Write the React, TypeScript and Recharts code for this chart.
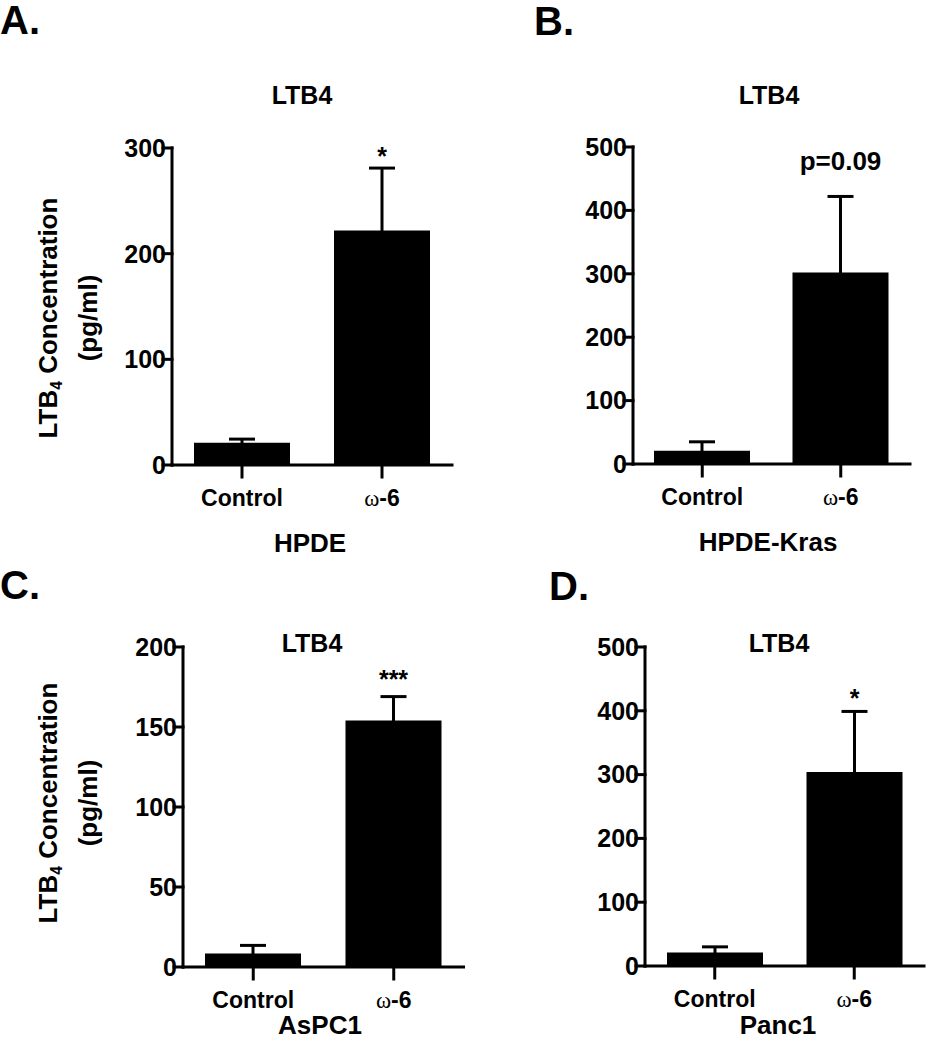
import { BarChart, Bar, XAxis, YAxis, ErrorBar, LabelList } from 'recharts'

const categories = ['Control', 'ω-6']

// A. HPDE
const hpdeMean = [21, 222]
const hpdeSem = [3.5, 59]
const hpdeTicks = [0, 100, 200, 300]

// B. HPDE-Kras
const krasMean = [21, 302]
const krasSem = [14, 120]
const krasTicks = [0, 100, 200, 300, 400, 500]

// C. AsPC1
const aspcMean = [8.5, 154]
const aspcSem = [5, 15]
const aspcTicks = [0, 50, 100, 150, 200]

// D. Panc1
const pancMean = [21, 304]
const pancSem = [9, 95]
const pancTicks = [0, 100, 200, 300, 400, 500]

const notes = ['*', 'p=0.09', '***', '*']

const FONT = '"Liberation Sans", Arial, sans-serif'
const Y_W = 80
const X_H = 45

type Box = { x: number; y: number; w: number; h: number }
type Plot = { left: number; top: number; right: number; bottom: number }

function CatTick(props: any) {
  const { x, y, payload } = props
  const label = String(payload.value)
  const common = {
    x,
    y,
    dy: '0.71em',
    textAnchor: 'middle' as const,
    fontFamily: FONT,
    fontWeight: 'bold',
    fontSize: 23,
    fill: '#000',
  }
  if (label.startsWith('ω')) {
    return (
      <text {...common}>
        <tspan fontFamily='"Liberation Serif", serif' fontWeight="normal">ω</tspan>
        <tspan>{label.slice(1)}</tspan>
      </text>
    )
  }
  return <text {...common}>{label}</text>
}

type PanelProps = {
  box: Box
  plot: Plot
  mean: number[]
  sem: number[]
  ticks: number[]
  note: string
  noteGap: number
  noteSize: number
}

function Panel({ box, plot, mean, sem, ticks, note, noteGap, noteSize }: PanelProps) {
  const data = categories.map((name, i) => ({ name, mean: mean[i], sem: sem[i] }))
  const margin = {
    left: plot.left - box.x - Y_W,
    top: plot.top - box.y,
    right: box.x + box.w - plot.right,
    bottom: box.y + box.h - plot.bottom - X_H,
  }
  const axisStyle = { stroke: '#000', strokeWidth: 3, strokeLinecap: 'square' as const }

  const renderNote = (p: any) => {
    if (p.index !== 1) return null
    const vb = p.viewBox && p.viewBox.width != null ? p.viewBox : p
    const { x, y, width, height } = vb
    const perUnit = height / mean[1]
    const errTop = y - sem[1] * perUnit
    return (
      <text
        x={x + width / 2}
        y={errTop - noteGap}
        textAnchor="middle"
        fontFamily={FONT}
        fontWeight="bold"
        fontSize={noteSize}
        fill="#000"
      >
        {note}
      </text>
    )
  }

  return (
    <div style={{ position: 'absolute', left: box.x, top: box.y }}>
      <BarChart width={box.w} height={box.h} data={data} margin={margin} barCategoryGap={0}>
        <XAxis
          dataKey="name"
          height={X_H}
          interval={0}
          axisLine={axisStyle}
          tickLine={axisStyle}
          tickSize={12}
          tickMargin={13}
          tick={<CatTick />}
        />
        <YAxis
          width={Y_W}
          domain={[0, ticks[ticks.length - 1]]}
          ticks={ticks}
          interval={0}
          axisLine={axisStyle}
          tickLine={axisStyle}
          tickSize={9}
          tickMargin={-3}
          tick={{ fontFamily: FONT, fontWeight: 'bold', fontSize: 25, fill: '#000' }}
        />
        <Bar dataKey="mean" fill="#000" barSize={96} isAnimationActive={false}>
          <ErrorBar dataKey="sem" direction="y" width={13} strokeWidth={3} stroke="#000" />
          <LabelList dataKey="mean" content={renderNote} />
        </Bar>
      </BarChart>
    </div>
  )
}

function Txt({ x, y, size, children, left }: { x: number; y: number; size: number; children: any; left?: boolean }) {
  return (
    <div
      style={{
        position: 'absolute',
        left: x,
        top: y,
        transform: left ? 'translate(0,-50%)' : 'translate(-50%,-50%)',
        fontFamily: FONT,
        fontWeight: 'bold',
        fontSize: size,
        lineHeight: 1,
        whiteSpace: 'nowrap',
        color: '#000',
      }}
    >
      {children}
    </div>
  )
}

function YLabel({ x, y }: { x: number; y: number }) {
  return (
    <div
      style={{
        position: 'absolute',
        left: x,
        top: y,
        transform: 'translate(-50%,-50%) rotate(-90deg)',
        fontFamily: FONT,
        fontWeight: 'bold',
        fontSize: 26,
        lineHeight: '37px',
        whiteSpace: 'nowrap',
        textAlign: 'center',
        color: '#000',
      }}
    >
      <div>
        LTB<span style={{ fontSize: '0.6em', position: 'relative', top: '0.35em' }}>4</span> Concentration
      </div>
      <div>(pg/ml)</div>
    </div>
  )
}

export default function App() {
  return (
    <div style={{ position: 'absolute', left: 0, top: 0, width: 931, height: 1050, background: '#fff' }}>
      <Panel
        box={{ x: 0, y: 0, w: 465, h: 525 }}
        plot={{ left: 172, top: 148, right: 452, bottom: 465 }}
        mean={hpdeMean}
        sem={hpdeSem}
        ticks={hpdeTicks}
        note={notes[0]}
        noteGap={3}
        noteSize={25}
      />
      <Panel
        box={{ x: 465, y: 0, w: 466, h: 525 }}
        plot={{ left: 633, top: 147, right: 910, bottom: 464 }}
        mean={krasMean}
        sem={krasSem}
        ticks={krasTicks}
        note={notes[1]}
        noteGap={26}
        noteSize={26}
      />
      <Panel
        box={{ x: 0, y: 525, w: 465, h: 525 }}
        plot={{ left: 183, top: 647, right: 464, bottom: 967 }}
        mean={aspcMean}
        sem={aspcSem}
        ticks={aspcTicks}
        note={notes[2]}
        noteGap={9}
        noteSize={25}
      />
      <Panel
        box={{ x: 465, y: 525, w: 466, h: 525 }}
        plot={{ left: 645, top: 647, right: 924, bottom: 966 }}
        mean={pancMean}
        sem={pancSem}
        ticks={pancTicks}
        note={notes[3]}
        noteGap={4}
        noteSize={25}
      />

      <Txt x={0} y={20} size={40} left>A.</Txt>
      <Txt x={534} y={21} size={40} left>B.</Txt>
      <Txt x={0} y={585} size={40} left>C.</Txt>
      <Txt x={549} y={586} size={40} left>D.</Txt>

      <Txt x={302} y={95} size={25}>LTB4</Txt>
      <Txt x={769} y={95} size={25}>LTB4</Txt>
      <Txt x={312} y={643} size={25}>LTB4</Txt>
      <Txt x={779} y={643} size={25}>LTB4</Txt>

      <Txt x={310} y={543} size={26}>HPDE</Txt>
      <Txt x={768} y={542} size={26}>HPDE-Kras</Txt>
      <Txt x={320} y={1025} size={26}>AsPC1</Txt>
      <Txt x={778} y={1025} size={26}>Panc1</Txt>

      <YLabel x={68} y={318} />
      <YLabel x={68} y={803} />
    </div>
  )
}
